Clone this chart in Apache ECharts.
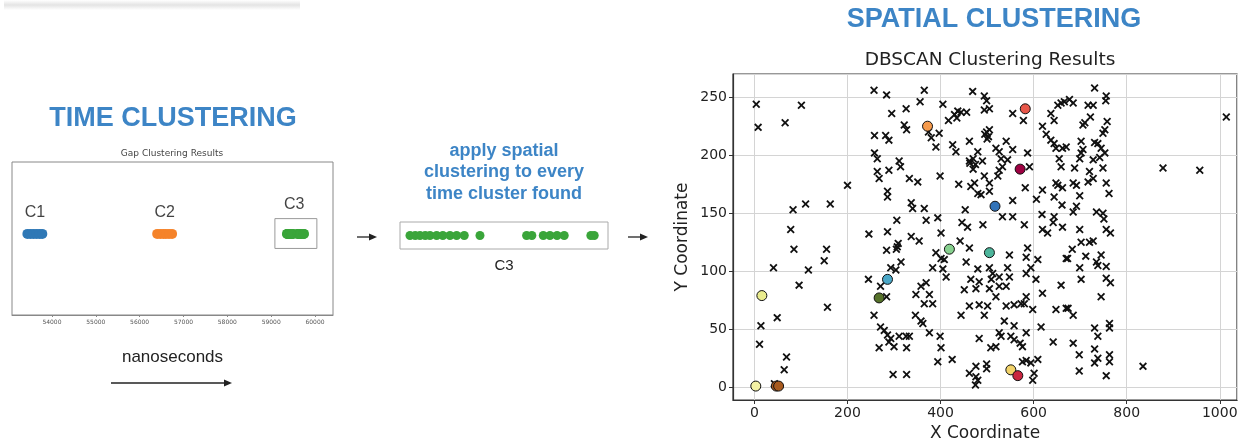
<!DOCTYPE html>
<html><head><meta charset="utf-8">
<script src="https://cdn.jsdelivr.net/npm/echarts@6/dist/echarts.min.js"></script>
<style>html,body{margin:0;padding:0;background:#fff}#c{width:1243px;height:442px}</style>
</head><body><div id="c"></div>
<script>
// ---- time clustering (nanoseconds) ----
const c1Times = [53440, 53510, 53580, 53650, 53720, 53780];
const c2Times = [56400, 56470, 56540, 56600, 56670, 56740];
const c3Times = [59360, 59371, 59381, 59392, 59402, 59416, 59429, 59444, 59458, 59474, 59507, 59605, 59616, 59640, 59654, 59669, 59684, 59740, 59747];
const timeClusterNames = ['C1', 'C2', 'C3'];
const timeTicks = [54000, 55000, 56000, 57000, 58000, 59000, 60000];

// ---- spatial clustering (DBSCAN) ----
const noisePoints = [
[4,244],[101,243],[8,224],[66,228],[257,256],[284,252],[295,236],[258,217],[282,217],[289,213],[258,202],[264,197],[311,195],[264,186],[268,180],[289,187],[314,190],[200,174],
[365,256],[469,255],[494,251],[499,247],[326,240],[356,246],[405,244],[494,239],[505,240],[322,226],[327,222],[374,220],[380,215],[397,219],[390,207],[417,230],[430,235],[437,238],[444,237],[456,237],[435,232],[555,236],[578,230],[499,220],[505,222],[495,218],[503,216],[500,214],[462,212],[426,209],[433,203],[480,203],[470,197],[462,195],[475,192],[519,206],[526,203],[541,212],[555,205],[544,196],[530,197],[490,195],[587,202],[591,190],[470,188],[463,193],[526,187],[533,190],[333,180],[351,177],[399,182],[473,176],[494,182],[505,176],[523,182],[637,236],[644,230],[652,243],[659,245],[666,246],[619,225],[627,218],[637,213],[644,210],[648,206],[662,206],[655,197],[659,190],
[731,258],[677,248],[685,245],[756,251],[755,247],[717,243],[728,243],[722,233],[706,226],[710,228],[758,229],[753,222],[749,219],[1014,233],[670,207],[702,212],[706,205],[702,202],[699,197],[731,211],[738,210],[745,206],[742,198],[753,202],[728,196],[878,189],[957,187],[688,189],[720,186],[749,189],[685,176],[717,177],[728,180],[756,176],
[286,169],[286,164],[83,153],[110,158],[163,158],[78,136],[85,119],[155,119],[150,109],[41,103],[116,101],[96,88],[306,144],[246,132],[286,134],[284,118],[307,121],[309,124],[305,119],[293,103],[304,101],[245,93],[271,87],
[439,175],[465,173],[480,167],[487,166],[505,169],[582,172],[619,170],[652,174],[644,164],[661,157],[606,162],[337,159],[340,154],[365,154],[555,161],[533,147],[555,147],[453,153],[369,144],[394,146],[446,142],[458,138],[491,140],[580,140],[618,149],[644,147],[642,142],[619,136],[630,133],[662,138],[401,133],[337,130],[354,126],[442,126],[462,120],[390,116],[401,111],[408,110],[405,102],[412,95],[383,103],[315,108],[455,108],[480,102],[465,93],[483,91],[476,85],[505,103],[512,98],[509,93],[526,95],[544,103],[548,95],[541,87],[548,114],[587,120],[584,112],[609,110],[594,103],[584,98],[605,93],[670,111],[659,88],[358,87],[369,90],[451,84],[505,85],[526,87],[648,176],[662,172],
[692,174],[699,165],[762,167],[692,156],[685,151],[735,151],[749,150],[751,145],[699,136],[756,136],[765,133],[702,125],[720,125],[728,126],[683,119],[673,111],[712,113],[745,114],[735,108],[738,105],[756,104],[699,103],[702,93],[756,94],[765,90],
[157,69],[49,60],[14,53],[11,37],[69,26],[64,15],[43,3],[284,78],[257,62],[271,52],[279,49],[286,45],[293,42],[289,39],[268,34],[300,35],[311,44],[298,11],
[347,80],[376,80],[383,72],[365,72],[519,78],[584,78],[619,81],[462,70],[483,71],[501,70],[494,62],[444,62],[541,70],[558,71],[573,72],[580,72],[598,67],[648,67],[670,68],[346,62],[358,57],[362,55],[537,57],[558,53],[616,52],[376,47],[399,44],[326,44],[333,44],[327,34],[526,47],[530,44],[551,44],[558,41],[584,47],[571,38],[576,35],[483,42],[401,34],[508,34],[519,35],[642,39],[425,24],[394,22],[327,11],[476,18],[499,20],[499,16],[462,12],[476,9],[480,6],[475,2],[576,22],[584,23],[594,21],[609,24],[601,12],[598,6],
[745,78],[674,68],[685,62],[731,51],[763,55],[763,51],[738,44],[685,38],[698,28],[698,14],[731,33],[738,25],[731,21],[763,28],[763,22],[756,10],[835,18]
];
const clusterX  = [372, 582, 571, 517, 419, 505, 286, 16, 268, 3, 47, 52, 551, 566];
const clusterY  = [225, 240, 188, 156, 119, 116, 93, 79, 77, 1, 1, 1, 15, 10];
const clusterId = [0, 1, 2, 3, 4, 5, 6, 7, 8, 9, 10, 10, 11, 12];
const clusterColors = ['#f59a4c','#e8574a','#9e0142','#3273b8','#86d08e','#4db59b','#4ba8c8','#eaec8e','#56722a','#f3f1a4','#a85a1e','#f2d36a','#c9253f'];
const xTicksSpatial = [0, 200, 400, 600, 800, 1000];
const yTicksSpatial = [0, 50, 100, 150, 200, 250];

const BLUE = '#3d85c6';
const MPL = "'DejaVu Sans', sans-serif";
const ARIAL = "'Liberation Sans', Arial, sans-serif";
const xMark = 'path://M1.6,0L5,3.4L8.4,0L10,1.6L6.6,5L10,8.4L8.4,10L5,6.6L1.6,10L0,8.4L3.4,5L0,1.6Z';

const chart = echarts.init(document.getElementById('c'), null, {renderer: 'canvas'});

function arrow(x1, y, x2) {
  return [
    {type: 'line', shape: {x1: x1, y1: y, x2: x2 - 5, y2: y}, style: {stroke: '#222', lineWidth: 1.3}},
    {type: 'polygon', shape: {points: [[x2, y], [x2 - 8, y - 3.5], [x2 - 8, y + 3.5]]}, style: {fill: '#222'}}
  ];
}
function txt(text, x, y, font, fill) {
  return {type: 'text', x: x, y: y, style: {text: text, font: font, fill: fill, align: 'center', verticalAlign: 'middle', textAlign: 'center', textVerticalAlign: 'middle'}};
}

const labelData = [c1Times, c2Times, c3Times].map((arr, i) => ({
  name: timeClusterNames[i],
  value: [arr.reduce((a, b) => a + b, 0) / arr.length, 0],
  label: {distance: i === 2 ? 21 : 13}
}));

const option = {
  backgroundColor: '#fff',
  animation: false,
  grid: [
    {left: 12, top: 162, width: 321, height: 153, show: true, borderColor: '#888', borderWidth: 1, backgroundColor: '#fff', containLabel: false, outerBoundsMode: 'none'},
    {left: 400, top: 222, width: 208, height: 27, show: true, borderColor: '#aaa', borderWidth: 1, backgroundColor: '#fff', containLabel: false, outerBoundsMode: 'none'},
    {left: 733, top: 74, width: 504, height: 326, show: true, borderColor: '#333', borderWidth: 1.2, backgroundColor: '#fff', containLabel: false, outerBoundsMode: 'none'}
  ],
  xAxis: [
    {type: 'value', gridIndex: 0, min: 53089, max: 60410, minInterval: 1000, maxInterval: 1000,
     axisLine: {show: true, onZero: false, lineStyle: {color: '#888'}}, axisTick: {show: true, length: 2, lineStyle: {color: '#888'}},
     axisLabel: {fontSize: 6, color: '#555', fontFamily: MPL, margin: 4, showMinLabel: false, showMaxLabel: false,
                 formatter: v => timeTicks.includes(v) ? String(v) : ''},
     splitLine: {show: false},
     name: 'nanoseconds', nameLocation: 'middle', nameGap: 34, nameTextStyle: {fontSize: 17, color: '#222', fontFamily: ARIAL}},
    {type: 'value', gridIndex: 1, min: 59339, max: 59776,
     axisLine: {show: false, onZero: false}, axisTick: {show: false}, axisLabel: {show: false}, splitLine: {show: false},
     name: 'C3', nameLocation: 'middle', nameGap: 9, nameTextStyle: {fontSize: 15, color: '#222', fontFamily: ARIAL}},
    {type: 'value', gridIndex: 2, min: -46, max: 1037, minInterval: 200, maxInterval: 200,
     axisLine: {show: true, onZero: false, lineStyle: {color: '#333', width: 1.2}}, axisTick: {show: true, length: 4, lineStyle: {color: '#333'}},
     axisLabel: {fontSize: 14, color: '#222', fontFamily: MPL, margin: 6, showMinLabel: false, showMaxLabel: false,
                 formatter: v => xTicksSpatial.includes(v) ? String(v) : ''},
     splitLine: {show: true, lineStyle: {color: '#d4d4d4', width: 1}},
     name: 'X Coordinate', nameLocation: 'middle', nameGap: 25, nameTextStyle: {fontSize: 17, color: '#222', fontFamily: MPL}}
  ],
  yAxis: [
    {type: 'value', gridIndex: 0, min: -1.06, max: 0.94, show: false},
    {type: 'value', gridIndex: 1, min: -1, max: 1, show: false},
    {type: 'value', gridIndex: 2, min: -11, max: 270, minInterval: 50, maxInterval: 50,
     axisLine: {show: true, onZero: false, lineStyle: {color: '#333', width: 1.2}}, axisTick: {show: true, length: 4, lineStyle: {color: '#333'}},
     axisLabel: {fontSize: 14, color: '#222', fontFamily: MPL, margin: 6, showMinLabel: false, showMaxLabel: false,
                 formatter: v => yTicksSpatial.includes(v) ? String(v) : ''},
     splitLine: {show: true, lineStyle: {color: '#d4d4d4', width: 1}},
     name: 'Y Coordinate', nameLocation: 'middle', nameGap: 42, nameRotate: 90, nameTextStyle: {fontSize: 17, color: '#222', fontFamily: MPL}}
  ],
  series: [
    {type: 'scatter', xAxisIndex: 0, yAxisIndex: 0, symbolSize: 10, itemStyle: {color: '#2f78b6', opacity: 1},
     data: c1Times.map(t => [t, 0])},
    {type: 'scatter', xAxisIndex: 0, yAxisIndex: 0, symbolSize: 10, itemStyle: {color: '#f5832a', opacity: 1},
     data: c2Times.map(t => [t, 0])},
    {type: 'scatter', xAxisIndex: 0, yAxisIndex: 0, symbolSize: 10, itemStyle: {color: '#3aa53a', opacity: 1},
     data: c3Times.map(t => [t, 0]),
     markArea: {silent: true, itemStyle: {color: 'rgba(0,0,0,0)', borderColor: '#999', borderWidth: 1},
       data: [[{coord: [Math.min(...c3Times) - 275, 0.2]}, {coord: [Math.max(...c3Times) + 295, -0.19]}]]}},
    {type: 'scatter', xAxisIndex: 0, yAxisIndex: 0, symbolSize: 0, silent: true,
     label: {show: true, position: 'top', formatter: p => p.name, fontSize: 16, color: '#111', fontFamily: ARIAL},
     data: labelData},
    {type: 'scatter', xAxisIndex: 1, yAxisIndex: 1, symbolSize: 9, itemStyle: {color: '#3aa53a', opacity: 1},
     data: c3Times.map(t => [t, 0])},
    {type: 'scatter', xAxisIndex: 2, yAxisIndex: 2, symbol: xMark, symbolSize: 8, itemStyle: {color: '#111', opacity: 1},
     data: noisePoints},
    {type: 'scatter', xAxisIndex: 2, yAxisIndex: 2, symbol: 'circle', symbolSize: 10,
     itemStyle: {color: p => clusterColors[p.value[2]], borderColor: '#111', borderWidth: 1, opacity: 1},
     data: clusterX.map((x, i) => [x, clusterY[i], clusterId[i]])}
  ],
  graphic: [
    {type: 'rect', shape: {x: 4, y: 0, width: 296, height: 10},
     style: {fill: new echarts.graphic.LinearGradient(0, 0, 0, 1, [{offset: 0, color: '#ffffff'}, {offset: 0.5, color: '#e4e4e4'}, {offset: 1, color: '#ffffff'}])}},
    txt('TIME CLUSTERING', 173, 119, "bold 27px 'Liberation Sans', Arial, sans-serif", BLUE),
    txt('Gap Clustering Results', 172, 154, "9px 'DejaVu Sans', sans-serif", '#444'),
    txt('apply spatial', 504, 151, "bold 18px 'Liberation Sans', Arial, sans-serif", BLUE),
    txt('clustering to every', 504, 172, "bold 18px 'Liberation Sans', Arial, sans-serif", BLUE),
    txt('time cluster found', 504, 194, "bold 18px 'Liberation Sans', Arial, sans-serif", BLUE),
    txt('SPATIAL CLUSTERING', 994, 20, "bold 27px 'Liberation Sans', Arial, sans-serif", BLUE),
    txt('DBSCAN Clustering Results', 990, 60, "18.5px 'DejaVu Sans', sans-serif", '#222'),
    ...arrow(111, 383, 232),
    ...arrow(357, 237, 377),
    ...arrow(628, 237, 648)
  ]
};
chart.setOption(option);
</script>
</body></html>
